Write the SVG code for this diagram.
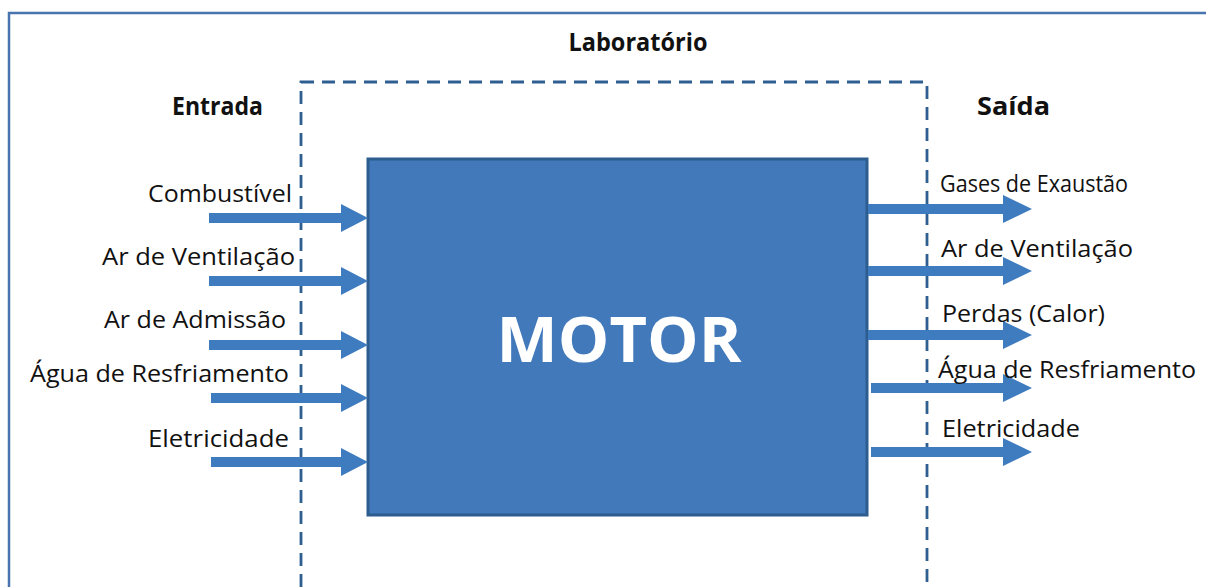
<svg xmlns="http://www.w3.org/2000/svg" width="1206" height="587" viewBox="0 0 1206 587">
  <defs>
    <style>
      .frame { fill: none; stroke: #4a74b0; stroke-width: 2.5; }
      .lab { fill: none; stroke: #2f5f91; stroke-width: 2.8; stroke-dasharray: 13 8; }
      .box { fill: #4179ba; stroke: #2d5d8f; stroke-width: 3; }
      .arrow { fill: #3f7bbf; }
      .title { font-family: "Open Sans", "Noto Sans", sans-serif; font-weight: bold; font-size: 25px; fill: #111; }
      .label { font-family: "Open Sans", "Noto Sans", sans-serif; font-size: 23.5px; fill: #111; }
      .motor { font-family: "Open Sans", "Noto Sans", sans-serif; font-weight: bold; font-size: 63px; fill: #ffffff; }
    </style>
  </defs>

  <rect width="1206" height="587" fill="#ffffff"/>

  <!-- outer frame -->
  <rect class="frame" x="9" y="13" width="1210" height="600"/>

  <!-- laboratory boundary -->
  <g id="laboratorio">
    <rect class="lab" x="301" y="82" width="626" height="540"/>
    <text class="title" x="638" y="51" text-anchor="middle" textLength="139" lengthAdjust="spacingAndGlyphs">Laboratório</text>
  </g>

  <g id="entrada">
    <text class="title" x="172" y="115" textLength="91" lengthAdjust="spacingAndGlyphs">Entrada</text>
  </g>
  <g id="saida">
    <text class="title" x="977" y="115" textLength="73" lengthAdjust="spacingAndGlyphs">Saída</text>
  </g>

  <!-- engine block -->
  <g id="motor">
    <rect class="box" x="368" y="159" width="499" height="356"/>
    <text class="motor" x="619" y="362" text-anchor="middle" textLength="245" lengthAdjust="spacingAndGlyphs">MOTOR</text>
  </g>

  <!-- flows in and out -->
  <g id="connectors">
    <g class="arrow">
      <polygon points="209,213 341,213 341,204 368,218 341,232 341,223 209,223"/>
      <polygon points="209,276 341,276 341,267 368,281 341,295 341,286 209,286"/>
      <polygon points="209,340 341,340 341,331 368,345 341,359 341,350 209,350"/>
      <polygon points="211,393 341,393 341,384 368,398 341,412 341,403 211,403"/>
      <polygon points="211,457 341,457 341,448 368,462 341,476 341,467 211,467"/>

      <polygon points="868,204 1003,204 1003,195 1032,209 1003,223 1003,214 868,214"/>
      <polygon points="868,266 1003,266 1003,257 1032,271 1003,285 1003,276 868,276"/>
      <polygon points="868,330 1003,330 1003,321 1032,335 1003,349 1003,340 868,340"/>
      <polygon points="871,383 1003,383 1003,374 1032,388 1003,402 1003,393 871,393"/>
      <polygon points="871,447 1003,447 1003,438 1032,452 1003,466 1003,457 871,457"/>
    </g>
  </g>

  <!-- input labels -->
  <g id="in-combustivel"><text class="label" x="292" y="202" text-anchor="end" textLength="144" lengthAdjust="spacingAndGlyphs">Combustível</text></g>
  <g id="in-ventilacao"><text class="label" x="295" y="265" text-anchor="end" textLength="193" lengthAdjust="spacingAndGlyphs">Ar de Ventilação</text></g>
  <g id="in-admissao"><text class="label" x="286" y="328" text-anchor="end" textLength="182" lengthAdjust="spacingAndGlyphs">Ar de Admissão</text></g>
  <g id="in-agua"><text class="label" x="289" y="382" text-anchor="end" textLength="259" lengthAdjust="spacingAndGlyphs">Água de Resfriamento</text></g>
  <g id="in-eletricidade"><text class="label" x="289" y="447" text-anchor="end" textLength="141" lengthAdjust="spacingAndGlyphs">Eletricidade</text></g>

  <!-- output labels -->
  <g id="out-gases"><text class="label" x="940" y="192" textLength="188" lengthAdjust="spacingAndGlyphs">Gases de Exaustão</text></g>
  <g id="out-ventilacao"><text class="label" x="941" y="257" textLength="192" lengthAdjust="spacingAndGlyphs">Ar de Ventilação</text></g>
  <g id="out-perdas"><text class="label" x="942" y="322" textLength="163" lengthAdjust="spacingAndGlyphs">Perdas (Calor)</text></g>
  <g id="out-agua"><text class="label" x="938" y="378" textLength="258" lengthAdjust="spacingAndGlyphs">Água de Resfriamento</text></g>
  <g id="out-eletricidade"><text class="label" x="942" y="437" textLength="138" lengthAdjust="spacingAndGlyphs">Eletricidade</text></g>
</svg>
